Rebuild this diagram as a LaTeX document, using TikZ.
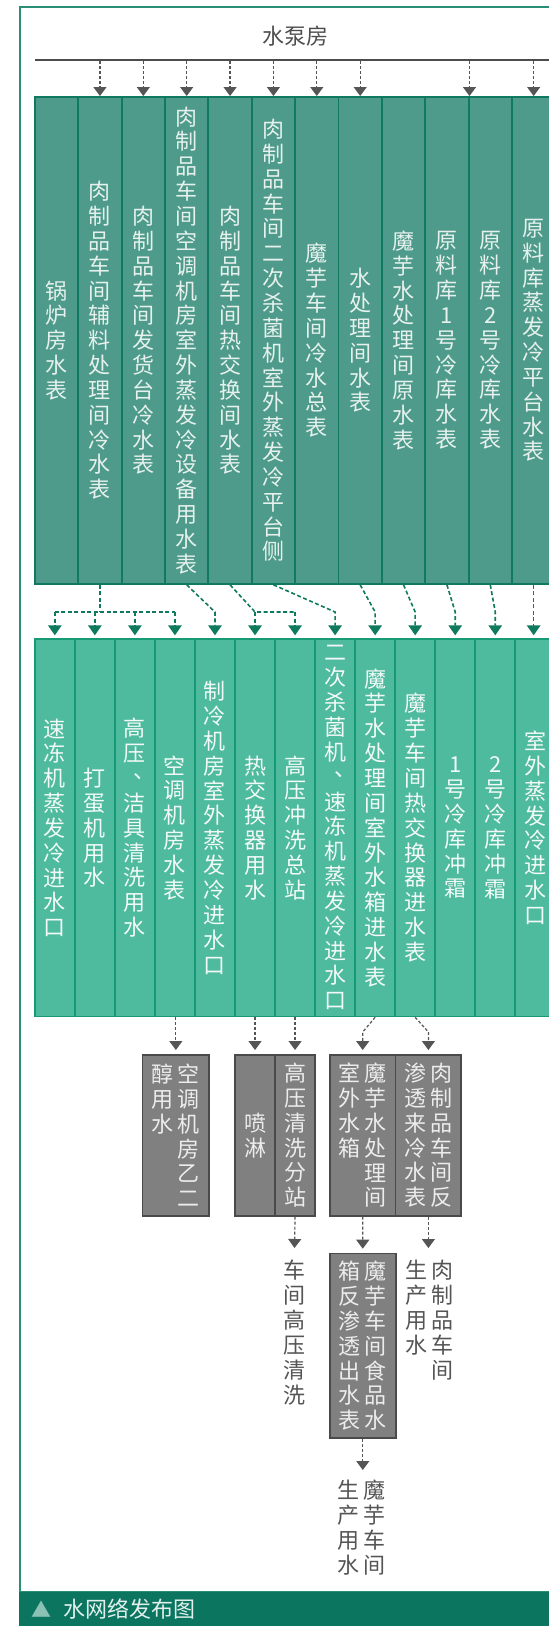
\documentclass[tikz,border=0pt]{standalone}
\usepackage{fontspec}
\setmainfont{Noto Sans CJK SC}
\usetikzlibrary{arrows.meta}
\definecolor{topfill}{HTML}{4F9B8B}
\definecolor{topline}{HTML}{0F7A60}
\definecolor{toptext}{HTML}{E6F1EE}
\definecolor{botfill}{HTML}{4EBA9E}
\definecolor{botline}{HTML}{169B76}
\definecolor{bottext}{HTML}{F2FAF7}
\definecolor{grayfill}{HTML}{808080}
\definecolor{grayline}{HTML}{4A4A4A}
\definecolor{graytext}{HTML}{ECECEC}
\definecolor{arrgray}{HTML}{555555}
\definecolor{arrgreen}{HTML}{0F7A5E}
\definecolor{framec}{HTML}{2A8E76}
\definecolor{footc}{HTML}{0B7560}
\definecolor{foottri}{HTML}{8CC2B5}
\definecolor{foottext}{HTML}{E2F0EC}
\definecolor{outtext}{HTML}{555555}
\definecolor{hdrtext}{HTML}{4D4D4D}
\ExplSyntaxOn
\cs_new_protected:Npn \vcol #1
 {
  \vtop
   {
    \baselineskip=24.85pt \lineskiplimit=-100pt \lineskip=0pt
    \tl_map_inline:nn {#1} { \hbox_to_wd:nn {24pt} { \hss ##1 \hss } }
   }
 }
\cs_new_protected:Npn \vtwo #1 #2
 {
  \hbox { \vcol {#2} \kern 2pt \vcol {#1} }
 }
\ExplSyntaxOff
\newcommand\vcomma{\hbox to 1em{\kern0.45em\raise0.38em\hbox{、}\hss}}
\tikzset{
  cjk/.style={font=\fontsize{22pt}{24.85pt}\selectfont},
  topbox/.style={cjk, draw=topline, fill=topfill, line width=1.8pt, minimum width=43.37pt,
    minimum height=487pt, inner sep=0pt, anchor=north west, text=toptext},
  botbox/.style={cjk, draw=botline, fill=botfill, line width=1.6pt, minimum width=40.04pt,
    minimum height=377.4pt, inner sep=0pt, anchor=north west, text=bottext},
  graybox/.style={cjk, draw=grayline, fill=grayfill, line width=1.6pt, minimum height=161pt,
    inner sep=0pt, anchor=north west, text=graytext},
  outlabel/.style={cjk, inner sep=0pt, anchor=north, text=outtext},
  gdash/.style={draw=arrgray, line width=1.2pt, dash pattern=on 3pt off 2pt,
    -{Triangle[width=13pt,length=9pt]}, arrgray},
  ndash/.style={draw=arrgreen, line width=1.6pt, dash pattern=on 4pt off 2.5pt,
    -{Triangle[width=13.5pt,length=10pt]}, arrgreen, shorten >=3pt},
  nline/.style={draw=arrgreen, line width=1.6pt, dash pattern=on 4pt off 2.5pt},
}
\begin{document}
\begin{tikzpicture}[x=1pt,y=-1pt]
\useasboundingbox (0,0) rectangle (549,1626);
\fill[white] (0,0) rectangle (549,1626);
\clip (0,0) rectangle (549,1626);
% frame and footer
\draw[framec, line width=2pt] (19.5,7) rectangle (640,1592);
\fill[footc] (18.5,1591.5) rectangle (640,1630);
\node[text=foottri, font=\fontsize{20pt}{22pt}\selectfont, anchor=west, inner sep=0pt] (tri) at (31.5,1609) {▲};
\node[text=foottext, cjk, anchor=west, inner sep=0pt] (foot) at (63.5,1609) {水网络发布图};
% header
\node[cjk, text=hdrtext, inner sep=0pt] (pump) at (295,36) {水泵房};
\coordinate (hl) at (35,60);
\draw[hdrtext, line width=1.8pt] (hl) -- (640,60);
% top boxes
\node[topbox] (t0) at (34,96) {\vcol{锅炉房水表}};
\node[topbox] (t1) at (77.37,96) {\vcol{肉制品车间辅料处理间冷水表}};
\node[topbox] (t2) at (120.74,96) {\vcol{肉制品车间发货台冷水表}};
\node[topbox] (t3) at (164.11,96) {\vcol{肉制品车间空调机房室外蒸发冷设备用水表}};
\node[topbox] (t4) at (207.48,96) {\vcol{肉制品车间热交换间水表}};
\node[topbox] (t5) at (250.85,96) {\vcol{肉制品车间二次杀菌机室外蒸发冷平台侧}};
\node[topbox] (t6) at (294.22,96) {\vcol{魔芋车间冷水总表}};
\node[topbox] (t7) at (337.59,96) {\vcol{水处理间水表}};
\node[topbox] (t8) at (380.96,96) {\vcol{魔芋水处理间原水表}};
\node[topbox] (t9) at (424.33,96) {\vcol{原料库1号冷库水表}};
\node[topbox] (t10) at (467.70,96) {\vcol{原料库2号冷库水表}};
\node[topbox] (t11) at (511.07,96) {\vcol{原料库蒸发冷平台水表}};
% arrows from header line
\foreach \i in {1,...,7} \draw[gdash, shorten <=1pt] (t\i.north |- hl) -- (t\i.north);
\draw[gdash, shorten <=1pt] (t9.north east |- hl) -- (t9.north east);
\draw[gdash, shorten <=1pt] (t11.north |- hl) -- (t11.north);
% bottom boxes
\node[botbox] (b0) at (34,638.3) {\vcol{速冻机蒸发冷进水口}};
\node[botbox] (b1) at (74.04,638.3) {\vcol{打蛋机用水}};
\node[botbox] (b2) at (114.08,638.3) {\vcol{高压\vcomma 洁具清洗用水}};
\node[botbox] (b3) at (154.12,638.3) {\vcol{空调机房水表}};
\node[botbox] (b4) at (194.16,638.3) {\vcol{制冷机房室外蒸发冷进水口}};
\node[botbox] (b5) at (234.20,638.3) {\vcol{热交换器用水}};
\node[botbox] (b6) at (274.24,638.3) {\vcol{高压冲洗总站}};
\node[botbox] (b7) at (314.28,638.3) {\vcol{二次杀菌机\vcomma 速冻机蒸发冷进水口}};
\node[botbox] (b8) at (354.32,638.3) {\vcol{魔芋水处理间室外水箱进水表}};
\node[botbox] (b9) at (394.36,638.3) {\vcol{魔芋车间热交换器进水表}};
\node[botbox] (b10) at (434.40,638.3) {\vcol{1号冷库冲霜}};
\node[botbox] (b11) at (474.44,638.3) {\vcol{2号冷库冲霜}};
\node[botbox] (b12) at (514.48,638.3) {\vcol{室外蒸发冷进水口}};
% green connectors
\coordinate (fy) at (0,612);
\draw[nline] (t1.south) -- (t1.south |- fy);
\draw[nline] (b0.north |- fy) -- (b3.north |- fy);
\foreach \j in {0,...,3} \draw[ndash] (b\j.north |- fy) -- (b\j.north);
\draw[ndash] (t3.south) -- (b4.north |- fy) -- (b4.north);
\draw[nline] (t4.south) -- (b5.north |- fy) -- (b6.north |- fy);
\draw[ndash] (b5.north |- fy) -- (b5.north);
\draw[ndash] (b6.north |- fy) -- (b6.north);
\draw[ndash] (t5.south) -- (b7.north |- fy) -- (b7.north);
\draw[ndash] (t7.south) -- (b8.north |- fy) -- (b8.north);
\draw[ndash] (t8.south) -- (b9.north |- fy) -- (b9.north);
\draw[ndash] (t9.south) -- (b10.north |- fy) -- (b10.north);
\draw[ndash] (t10.south) -- (b11.north |- fy) -- (b11.north);
\draw[ndash] (t11.south) -- (t11.south |- b12.north);
% gray boxes
\node[graybox, minimum width=66.5pt] (g1) at (141.8,1054) {\vtwo{空调机房乙二}{醇用水}};
\node[graybox, minimum width=40.04pt] (g2) at (234.2,1054) {\vcol{喷淋}};
\node[graybox, minimum width=40.04pt] (g3) at (274.24,1054) {\vcol{高压清洗分站}};
\node[graybox, minimum width=65.8pt] (g4) at (329,1054) {\vtwo{魔芋水处理间}{室外水箱}};
\node[graybox, minimum width=65.6pt] (g5) at (394.8,1054) {\vtwo{肉制品车间反}{渗透来冷水表}};
\node[graybox, minimum width=66pt, minimum height=184.6pt] (g6) at (329,1252.7) {\vtwo{魔芋车间食品水}{箱反渗透出水表}};
% gray connectors
\draw[gdash, shorten >=4pt] (g1.north |- b3.south) -- (g1.north);
\draw[gdash, shorten >=4pt] (b5.south) -- (g2.north);
\draw[gdash, shorten >=4pt] (b6.south) -- (g3.north);
\draw[gdash, shorten >=4pt] (b8.south) -- ([yshift=22pt]g4.north) -- (g4.north);
\draw[gdash, shorten >=4pt] (b9.south) -- ([yshift=22pt]g5.north) -- (g5.north);
% outside labels
\node[outlabel] (o1) at (294.3,1260) {\vcol{车间高压清洗}};
\node[outlabel] (o2) at (429.6,1260) {\vtwo{肉制品车间}{生产用水}};
\node[outlabel] (o3) at (361.3,1480) {\vtwo{魔芋车间}{生产用水}};
\draw[gdash, shorten >=12pt] (g3.south) -- (o1.north);
\draw[gdash, shorten >=4pt] (g4.south) -- (g6.north);
\draw[gdash, shorten >=12pt] (g5.south) -- (g5.south |- o2.north);
\draw[gdash, shorten >=10pt] (g6.south) -- (g6.south |- o3.north);
\end{tikzpicture}
\end{document}
